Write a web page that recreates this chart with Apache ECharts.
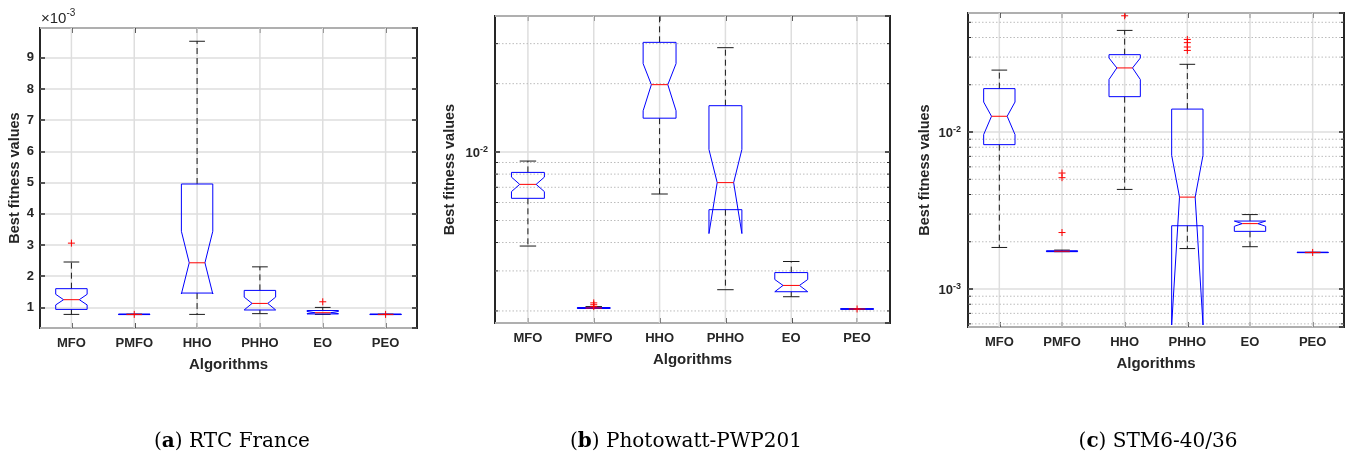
<!DOCTYPE html>
<html>
<head>
<meta charset="utf-8">
<script src="https://cdn.jsdelivr.net/npm/echarts@6/dist/echarts.min.js"></script>
<style>
html,body{margin:0;padding:0;background:#fff;}
#chart{width:1349px;height:457px;}
</style>
</head>
<body>
<div id="chart"></div>
<script>
// ---------- data ----------
const categories = ['MFO', 'PMFO', 'HHO', 'PHHO', 'EO', 'PEO'];

// (a) RTC France, values in units of 1e-3
const rtcLowWhisker  = [0.776, 0.770, 0.776, 0.800, 0.776, 0.770];
const rtcQ1          = [0.936, 0.770, 1.460, 0.917, 0.790, 0.770];
const rtcNotchLow    = [1.080, 0.776, 1.430, 0.920, 0.800, 0.776];
const rtcMedian      = [1.247, 0.776, 2.430, 1.128, 0.830, 0.776];
const rtcNotchHigh   = [1.420, 0.776, 3.440, 1.330, 0.870, 0.776];
const rtcQ3          = [1.600, 0.785, 4.955, 1.545, 0.900, 0.785];
const rtcHighWhisker = [2.455, 0.785, 9.530, 2.300, 1.000, 0.785];
const rtcOutliers    = [[0, 3.06], [1, 0.776], [4, 1.18], [5, 0.776]];
const rtcRange       = [0.34, 9.955];

// (b) Photowatt-PWP201
const pwLowWhisker  = [3.86e-3, 2.05e-3, 6.54e-3, 2.48e-3, 2.31e-3, 2.035e-3];
const pwQ1          = [6.26e-3, 2.05e-3, 1.41e-2, 5.58e-3, 2.43e-3, 2.035e-3];
const pwNotchLow    = [6.70e-3, 2.055e-3, 1.52e-2, 4.38e-3, 2.43e-3, 2.04e-3];
const pwMedian      = [7.21e-3, 2.06e-3, 1.98e-2, 7.34e-3, 2.59e-3, 2.04e-3];
const pwNotchHigh   = [7.76e-3, 2.065e-3, 2.45e-2, 1.027e-2, 2.75e-3, 2.04e-3];
const pwQ3          = [8.14e-3, 2.07e-3, 3.04e-2, 1.60e-2, 2.95e-3, 2.045e-3];
const pwHighWhisker = [9.13e-3, 2.09e-3, 4.60e-2, 2.88e-2, 3.30e-3, 2.045e-3];
const pwOutliers    = [[1, 2.09e-3], [1, 2.13e-3], [1, 2.17e-3], [5, 2.04e-3]];
const pwRange       = [1.77e-3, 3.97e-2];
const pwMinorTicks  = [2e-3, 3e-3, 4e-3, 5e-3, 6e-3, 7e-3, 8e-3, 9e-3, 2e-2, 3e-2];

// (c) STM6-40/36
const stmLowWhisker  = [1.84e-3, 1.73e-3, 4.31e-3, 1.81e-3, 1.86e-3, 1.705e-3];
const stmQ1          = [8.31e-3, 1.73e-3, 1.68e-2, 2.53e-3, 2.33e-3, 1.705e-3];
const stmNotchLow    = [9.63e-3, 1.735e-3, 2.16e-2, 5.9e-4, 2.51e-3, 1.71e-3];
const stmMedian      = [1.26e-2, 1.74e-3, 2.56e-2, 3.85e-3, 2.61e-3, 1.71e-3];
const stmNotchHigh   = [1.553e-2, 1.745e-3, 2.96e-2, 7.11e-3, 2.71e-3, 1.71e-3];
const stmQ3          = [1.89e-2, 1.75e-3, 3.11e-2, 1.40e-2, 2.71e-3, 1.715e-3];
const stmHighWhisker = [2.48e-2, 1.77e-3, 4.44e-2, 2.70e-2, 2.98e-3, 1.715e-3];
const stmOutliers    = [[1, 2.29e-3], [1, 5.12e-3], [1, 5.48e-3], [2, 5.5e-2],
                        [3, 3.31e-2], [3, 3.48e-2], [3, 3.71e-2], [3, 3.89e-2], [5, 1.71e-3]];
const stmRange       = [5.73e-4, 5.73e-2];
const stmMinorTicks  = [6e-4, 7e-4, 8e-4, 9e-4, 2e-3, 3e-3, 4e-3, 5e-3, 6e-3, 7e-3, 8e-3, 9e-3,
                        2e-2, 3e-2, 4e-2, 5e-2];

const captions = [['a', ' RTC France'], ['b', ' Photowatt-PWP201'], ['c', ' STM6-40/36']];

// ---------- styling ----------
const FONT = 'Liberation Sans';
const AX = '#262626';
const GRIDC = '#dedede';

const panels = [
  {grid: {left: 40, top: 28, width: 377, height: 300}, type: 'value', range: rtcRange,
   stats: [rtcLowWhisker, rtcQ1, rtcNotchLow, rtcMedian, rtcNotchHigh, rtcQ3, rtcHighWhisker],
   outliers: rtcOutliers, minor: [], nameGap: 18, labelMargin: 6, cap: 232},
  {grid: {left: 495, top: 16, width: 395, height: 307}, type: 'log', range: pwRange,
   stats: [pwLowWhisker, pwQ1, pwNotchLow, pwMedian, pwNotchHigh, pwQ3, pwHighWhisker],
   outliers: pwOutliers, minor: pwMinorTicks, nameGap: 38, labelMargin: 7, cap: 686},
  {grid: {left: 968, top: 13, width: 376, height: 314}, type: 'log', range: stmRange,
   stats: [stmLowWhisker, stmQ1, stmNotchLow, stmMedian, stmNotchHigh, stmQ3, stmHighWhisker],
   outliers: stmOutliers, minor: stmMinorTicks, nameGap: 36, labelMargin: 7, cap: 1158}
];

function isPow10(v) {
  const l = Math.log10(v);
  return Math.abs(l - Math.round(l)) < 1e-6;
}

function renderBox(params, api) {
  const i = api.value(0);
  const lw = api.value(1), q1 = api.value(2), nl = api.value(3), md = api.value(4),
        nh = api.value(5), q3 = api.value(6), hw = api.value(7);
  const cx = api.coord([i, md])[0];
  const band = api.size([1, md])[0];
  const hb = band * 0.25, hn = band * 0.125;
  const Y = v => api.coord([i, v])[1];
  const L = cx - hb, R = cx + hb;
  const poly = [[L, Y(q1)], [L, Y(nl)], [cx - hn, Y(md)], [L, Y(nh)], [L, Y(q3)],
                [R, Y(q3)], [R, Y(nh)], [cx + hn, Y(md)], [R, Y(nl)], [R, Y(q1)]];
  const dash = {stroke: '#1a1a1a', lineWidth: 1, lineDash: [6, 4]};
  const solid = {stroke: '#1a1a1a', lineWidth: 1};
  return {
    type: 'group',
    children: [
      {type: 'line', shape: {x1: cx, y1: Y(q3), x2: cx, y2: Y(hw)}, style: dash},
      {type: 'line', shape: {x1: cx, y1: Y(q1), x2: cx, y2: Y(lw)}, style: dash},
      {type: 'line', shape: {x1: cx - hn, y1: Y(hw), x2: cx + hn, y2: Y(hw)}, style: solid},
      {type: 'line', shape: {x1: cx - hn, y1: Y(lw), x2: cx + hn, y2: Y(lw)}, style: solid},
      {type: 'polygon', shape: {points: poly}, style: {fill: 'none', stroke: '#0000ff', lineWidth: 1}},
      {type: 'line', shape: {x1: cx - hn, y1: Y(md), x2: cx + hn, y2: Y(md)},
       style: {stroke: '#ff0000', lineWidth: 1}}
    ]
  };
}

function renderPlus(params, api) {
  const p = api.coord([api.value(0), api.value(1)]);
  const s = 3.5;
  const st = {stroke: '#ff0000', lineWidth: 1};
  return {type: 'group', children: [
    {type: 'line', shape: {x1: p[0] - s, y1: p[1], x2: p[0] + s, y2: p[1]}, style: st},
    {type: 'line', shape: {x1: p[0], y1: p[1] - s, x2: p[0], y2: p[1] + s}, style: st}
  ]};
}

function renderVGrid(params, api) {
  const cs = params.coordSys;
  const x = api.coord([api.value(0), api.value(1)])[0];
  return {type: 'line', shape: {x1: x, y1: cs.y, x2: x, y2: cs.y + cs.height},
          style: {stroke: GRIDC, lineWidth: 1.5}};
}

function renderMinor(params, api) {
  const cs = params.coordSys;
  const y = api.coord([0, api.value(1)])[1];
  return {type: 'group', children: [
    {type: 'line', shape: {x1: cs.x, y1: y, x2: cs.x + cs.width, y2: y},
     style: {stroke: '#bcbcbc', lineWidth: 1, lineDash: [1.5, 2]}},
    {type: 'line', shape: {x1: cs.x, y1: y, x2: cs.x + 3, y2: y}, style: {stroke: AX, lineWidth: 1}},
    {type: 'line', shape: {x1: cs.x + cs.width - 3, y1: y, x2: cs.x + cs.width, y2: y},
     style: {stroke: AX, lineWidth: 1}}
  ]};
}

const grids = [], xAxes = [], yAxes = [], series = [], graphics = [];

panels.forEach((p, k) => {
  grids.push(Object.assign({show: true, borderColor: AX, borderWidth: 2, backgroundColor: '#fff'}, p.grid));
  const tickStyle = {color: AX, width: 1.5};
  const baseX = {
    type: 'category', data: categories, gridIndex: k,
    axisLine: {show: false},
    axisTick: {show: true, inside: true, alignWithLabel: true, length: 5, lineStyle: tickStyle},
    splitLine: {show: false}
  };
  xAxes.push(Object.assign({}, baseX, {
    position: 'bottom',
    axisLabel: {fontFamily: FONT, fontWeight: 'bold', fontSize: 13, color: AX, margin: 9},
    name: 'Algorithms', nameLocation: 'middle', nameGap: 29,
    nameTextStyle: {fontFamily: FONT, fontWeight: 'bold', fontSize: 15, color: AX}
  }));
  xAxes.push(Object.assign({}, baseX, {position: 'top', axisLabel: {show: false}}));

  let labelCfg;
  const baseY = {gridIndex: k, min: p.range[0], max: p.range[1], axisLine: {show: false},
                 axisTick: {show: true, inside: true, length: 5, lineStyle: tickStyle}};
  if (p.type === 'value') {
    Object.assign(baseY, {type: 'value', splitNumber: 10, minInterval: 1, maxInterval: 1});
    labelCfg = {
      fontFamily: FONT, fontWeight: 'bold', fontSize: 13, color: AX, margin: p.labelMargin,
      showMinLabel: false, showMaxLabel: false,
      formatter: v => (Math.abs(v - Math.round(v)) < 1e-6 ? String(Math.round(v)) : '')
    };
  } else {
    Object.assign(baseY, {type: 'log', logBase: 10});
    labelCfg = {
      margin: p.labelMargin, color: AX,
      showMinLabel: false, showMaxLabel: false,
      formatter: v => (isPow10(v) ? '{b|10}{s|' + Math.round(Math.log10(v)) + '}' : ''),
      rich: {
        b: {fontFamily: FONT, fontWeight: 'bold', fontSize: 13, color: AX, verticalAlign: 'bottom'},
        s: {fontFamily: FONT, fontWeight: 'bold', fontSize: 9, color: AX, verticalAlign: 'bottom',
            padding: [0, 0, 6, 0]}
      }
    };
  }
  yAxes.push(Object.assign({}, baseY, {
    position: 'left', axisLabel: labelCfg,
    splitLine: {show: true, lineStyle: {color: GRIDC, width: 1.5}},
    name: 'Best fitness values', nameLocation: 'middle', nameGap: p.nameGap,
    nameTextStyle: {fontFamily: FONT, fontWeight: 'bold', fontSize: 14.5, color: AX}
  }));
  yAxes.push(Object.assign({}, baseY, {position: 'right', axisLabel: {show: false}, splitLine: {show: false}}));

  const xi = 2 * k, yi = 2 * k;
  series.push({
    type: 'custom', xAxisIndex: xi, yAxisIndex: yi, silent: true, z: 1,
    data: categories.map((c, i) => [i, p.range[0] * 1.0001]),
    renderItem: renderVGrid
  });
  if (p.minor.length) {
    series.push({
      type: 'custom', xAxisIndex: xi, yAxisIndex: yi, silent: true, z: 1,
      data: p.minor.map(v => [0, v]),
      renderItem: renderMinor
    });
  }
  const s = p.stats;
  series.push({
    type: 'custom', xAxisIndex: xi, yAxisIndex: yi, clip: true, z: 3,
    encode: {x: 0, y: [1, 2, 3, 4, 5, 6, 7]},
    data: categories.map((c, i) => [i, s[0][i], s[1][i], s[2][i], s[3][i], s[4][i], s[5][i], s[6][i]]),
    renderItem: renderBox
  });
  series.push({
    type: 'custom', xAxisIndex: xi, yAxisIndex: yi, clip: true, z: 4,
    data: p.outliers,
    renderItem: renderPlus
  });

  graphics.push({
    type: 'text', x: p.cap, y: 442,
    style: {
      text: '{p|(}{b|' + captions[k][0] + '}{p|)' + captions[k][1] + '}',
      align: 'center', verticalAlign: 'middle', textAlign: 'center', textVerticalAlign: 'middle',
      rich: {
        p: {fontFamily: 'DejaVu Serif', fontSize: 20, fill: '#000', color: '#000'},
        b: {fontFamily: 'DejaVu Serif', fontSize: 20, fontWeight: 'bold', fill: '#000', color: '#000'}
      }
    }
  });
});

graphics.push({
  type: 'text', x: 41, y: 26,
  style: {
    text: '{t|\u00d710}{s|-3}',
    align: 'left', verticalAlign: 'bottom', textAlign: 'left', textVerticalAlign: 'bottom',
    rich: {
      t: {fontFamily: FONT, fontSize: 15, fill: AX, color: AX, verticalAlign: 'bottom'},
      s: {fontFamily: FONT, fontSize: 10, fill: AX, color: AX, verticalAlign: 'bottom', padding: [0, 0, 8, 0]}
    }
  }
});

const chart = echarts.init(document.getElementById('chart'), null, {renderer: 'canvas'});
chart.setOption({
  animation: false,
  backgroundColor: '#fff',
  grid: grids,
  xAxis: xAxes,
  yAxis: yAxes,
  series: series,
  graphic: graphics
});
</script>
</body>
</html>
